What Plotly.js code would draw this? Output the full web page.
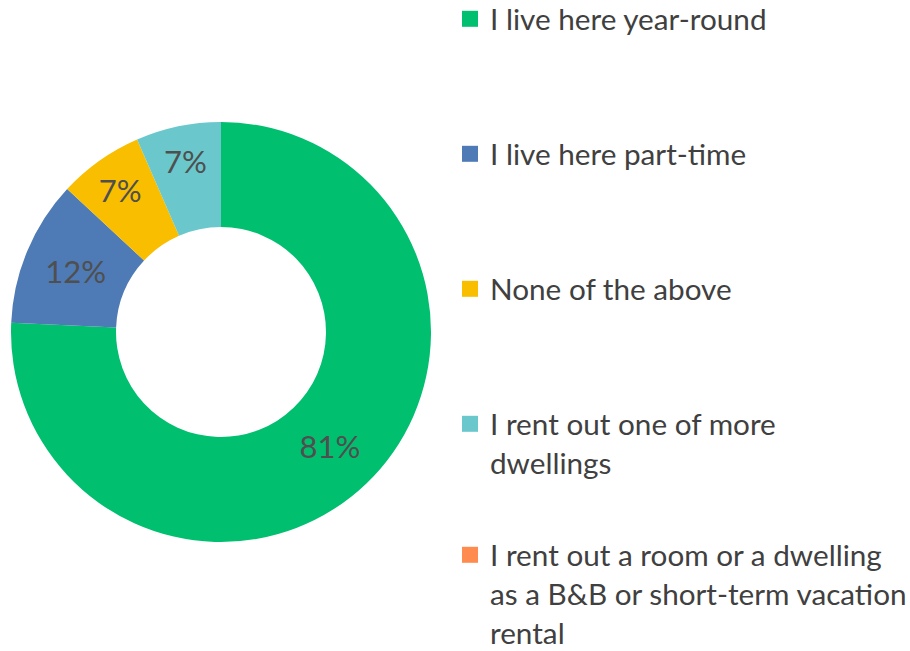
<!DOCTYPE html>
<html>
<head>
<meta charset="utf-8">
<script src="https://cdn.plot.ly/plotly-3.0.1.min.js"></script>
<style>html,body{margin:0;padding:0;background:#fff;}#chart{width:910px;height:651px;}</style>
</head>
<body>
<div id="chart"></div>
<script>
const categories = [
  "I live here year-round",
  "I live here part-time",
  "None of the above",
  "I rent out one of more dwellings",
  "I rent out a room or a dwelling as a B&B or short-term vacation rental"
];
const legendLabels = [
  "I live here year-round",
  "I live here part-time",
  "None of the above",
  "I rent out one of more<br>dwellings",
  "I rent out a room or a dwelling<br>as a B&B or short-term vacation<br>rental"
];
const values = [81, 12, 7, 7, 0];
const colors = ["#00BF6F", "#4E7AB5", "#F9BE00", "#6AC8CC", "#FF8B4F"];

const W = 910, H = 651;
const legendTops = [20, 155, 290, 425, 556]; // first-line centres (px)

const traces = [{
  type: "pie",
  labels: categories,
  values: values,
  marker: {colors: colors},
  hole: 0.5,
  sort: false,
  direction: "clockwise",
  rotation: 0,
  text: values.map(v => v > 0 ? v + "%" : ""),
  textinfo: "text",
  textposition: "inside",
  insidetextorientation: "horizontal",
  textfont: {family: "Lato", size: 31, color: "#4F4F4F", weight: 400},
  domain: {x: [11 / W, 431 / W], y: [(319 - 210) / H, (319 + 210) / H]},
  showlegend: false,
  hoverinfo: "label+value"
}];

const layout = {
  width: W, height: H,
  margin: {l: 0, r: 0, t: 0, b: 0, autoexpand: false},
  paper_bgcolor: "#fff",
  plot_bgcolor: "rgba(0,0,0,0)",
  xaxis: {visible: false},
  yaxis: {visible: false}
};

legendLabels.forEach((lab, i) => {
  const key = i === 0 ? "legend" : "legend" + (i + 1);
  traces.push({
    type: "scatter", mode: "markers",
    x: [null], y: [null],
    name: lab,
    marker: {symbol: "square", size: 18, color: colors[i]},
    showlegend: true,
    legend: key,
    hoverinfo: "skip"
  });
  layout[key] = {
    x: 450 / W, xanchor: "left",
    y: 1 - (legendTops[i] - 27) / H, yanchor: "top",
    bgcolor: "rgba(0,0,0,0)",
    borderwidth: 0,
    valign: "top",
    itemwidth: 30,
    font: {family: "Lato", size: 29.7, color: "#404040"}
  };
});

Plotly.newPlot("chart", traces, layout, {displayModeBar: false, staticPlot: true});
</script>
</body>
</html>
